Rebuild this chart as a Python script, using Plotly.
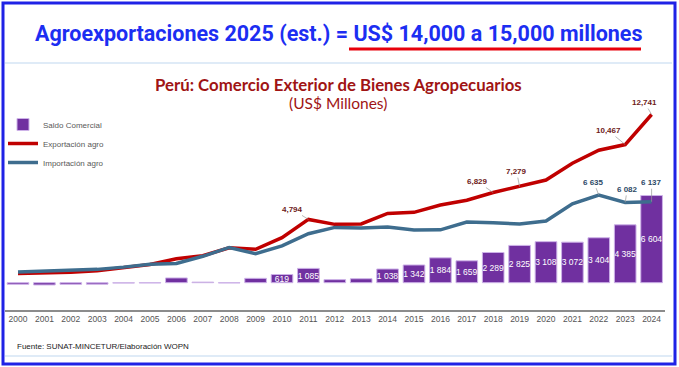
import plotly.graph_objects as go

years = [str(y) for y in range(2000, 2025)]
exportacion = [700, 720, 800, 900, 1150, 1380, 1820, 2045, 2650, 2530, 3410, 4794, 4420, 4450,
               5250, 5330, 5890, 6250, 6829, 7279, 7780, 9050, 10039, 10467, 12741]
importacion = [820, 890, 920, 1010, 1180, 1400, 1460, 2000, 2670, 2200, 2791, 3709, 4190, 4150,
               4212, 3988, 4006, 4591, 4540, 4454, 4672, 5978, 6635, 6082, 6137]
saldo = [-120, -170, -120, -110, -30, -20, 360, 45, -20, 330, 619, 1085, 230, 300,
         1038, 1342, 1884, 1659, 2289, 2825, 3108, 3072, 3404, 4385, 6604]
saldo_labels = ["", "", "", "", "", "", "", "", "", "", "619", "1 085", "", "",
                "1 038", "1 342", "1 884", "1 659", "2 289", "2 825", "3 108", "3 072", "3 404", "4 385", "6 604"]

W, H = 679, 367
def px(x):
    return x / W
def py(y):
    return 1 - y / H

# pixel geometry of the plotting area
x_left, x_right = 4.8, 664.8
y_top, y_bot = 100, 310
zero_px, k = 282.7, 0.0132
y_min = -(y_bot - zero_px) / k
y_max = (zero_px - y_top) / k

gray_years = {"2004", "2005", "2007", "2008"}
bar_colors = ["#a0a0a0" if y in gray_years else "#7030a0" for y in years]

fig = go.Figure()
fig.add_trace(go.Bar(
    x=years, y=saldo, name="Saldo Comercial",
    marker=dict(color=bar_colors, line=dict(color="#cdb2e8", width=1)),
    width=0.82, text=saldo_labels, textposition="inside", insidetextanchor="middle",
    textangle=0, constraintext="none", cliponaxis=False,
    textfont=dict(color="white", size=8.5, family="Liberation Sans"),
))
fig.add_trace(go.Scatter(
    x=years, y=exportacion, name="Exportación agro", mode="lines",
    line=dict(color="#c00000", width=3.5),
))
fig.add_trace(go.Scatter(
    x=years, y=importacion, name="Importación agro", mode="lines",
    line=dict(color="#3e6d8e", width=3.5),
))

annotations = []
exp_labels = {"2011": (-16, -10), "2018": (-16, -11), "2019": (-3, -15), "2023": (-17, -14), "2024": (-7, -12)}
imp_labels = {"2022": (-5, -13), "2023": (2, -13), "2024": (0, -19)}
for yr, (ax, ay) in exp_labels.items():
    i = years.index(yr)
    v = exportacion[i]
    annotations.append(dict(x=i, y=v, xref="x", yref="y", text=f"<b>{v:,}</b>", showarrow=True,
                            arrowhead=0, arrowwidth=0.7, arrowcolor="#9a9a9a", ax=ax, ay=ay,
                            xanchor="center", yanchor="middle",
                            font=dict(size=8, color="#6e1a1a", family="Liberation Sans")))
for yr, (ax, ay) in imp_labels.items():
    i = years.index(yr)
    v = importacion[i]
    annotations.append(dict(x=i, y=v, xref="x", yref="y", text="<b>" + f"{v:,}".replace(",", " ") + "</b>",
                            showarrow=True,
                            arrowhead=0, arrowwidth=0.7, arrowcolor="#9a9a9a", ax=ax, ay=ay,
                            xanchor="center", yanchor="middle",
                            font=dict(size=8, color="#2e4a66", family="Liberation Sans")))

annotations += [
    dict(text="<b>Agroexportaciones 2025 (est.) = US$ 14,000 a 15,000 millones</b>",
         x=px(338), y=py(33), xref="paper", yref="paper", showarrow=False,
         xanchor="center", yanchor="middle",
         font=dict(family="Roboto", size=21.5, color="#1c2ef2")),
    dict(text="<b>Perú: Comercio Exterior de Bienes Agropecuarios</b>",
         x=px(338), y=py(84), xref="paper", yref="paper", showarrow=False,
         xanchor="center", yanchor="middle",
         font=dict(family="Lato", size=16.8, color="#a01414")),
    dict(text="(US$ Millones)",
         x=px(338), y=py(103), xref="paper", yref="paper", showarrow=False,
         xanchor="center", yanchor="middle",
         font=dict(family="Lato", size=15.5, color="#a01414")),
    dict(text="Fuente: SUNAT-MINCETUR/Elaboración WOPN",
         x=px(15), y=py(346), xref="paper", yref="paper", xanchor="left", yanchor="middle",
         showarrow=False,
         font=dict(family="Liberation Sans", size=8, color="#222222")),
]

shapes = [
    dict(type="rect", xref="paper", yref="paper", x0=px(3), x1=px(675), y0=py(3), y1=py(364),
         line=dict(color="#1f22e6", width=3)),
    dict(type="line", xref="paper", yref="paper", x0=px(349), x1=px(641), y0=py(49), y1=py(49),
         line=dict(color="#e8000b", width=3)),
    dict(type="line", xref="paper", yref="paper", x0=px(5), x1=px(672), y0=py(63), y1=py(63),
         line=dict(color="#d4e5f5", width=1.5)),
    dict(type="line", xref="paper", yref="paper", x0=px(5), x1=px(672), y0=py(356), y1=py(356),
         line=dict(color="#d4e5f5", width=1.5)),
]

fig.update_layout(
    width=W, height=H, margin=dict(l=0, r=0, t=0, b=0),
    paper_bgcolor="white", plot_bgcolor="white",
    showlegend=True,
    legend=dict(x=px(3), y=py(110), xanchor="left", yanchor="top", bgcolor="rgba(0,0,0,0)",
                font=dict(size=8, color="#595959", family="Liberation Sans"),
                tracegroupgap=0, itemwidth=30),
    xaxis=dict(domain=[px(x_left), px(x_right)], type="category", range=[-0.5, 24.5],
               showline=True, linecolor="#8c8c8c", linewidth=2, showgrid=False, ticks="",
               tickfont=dict(size=8.5, color="#555555", family="Liberation Sans")),
    yaxis=dict(domain=[py(y_bot), py(y_top)], range=[y_min, y_max], visible=False, showgrid=False,
               zeroline=False),
    bargap=0.18,
    annotations=annotations, shapes=shapes,
)

fig.write_html("out.html", config={"displayModeBar": False},
               post_script="document.body.style.margin='0';")
